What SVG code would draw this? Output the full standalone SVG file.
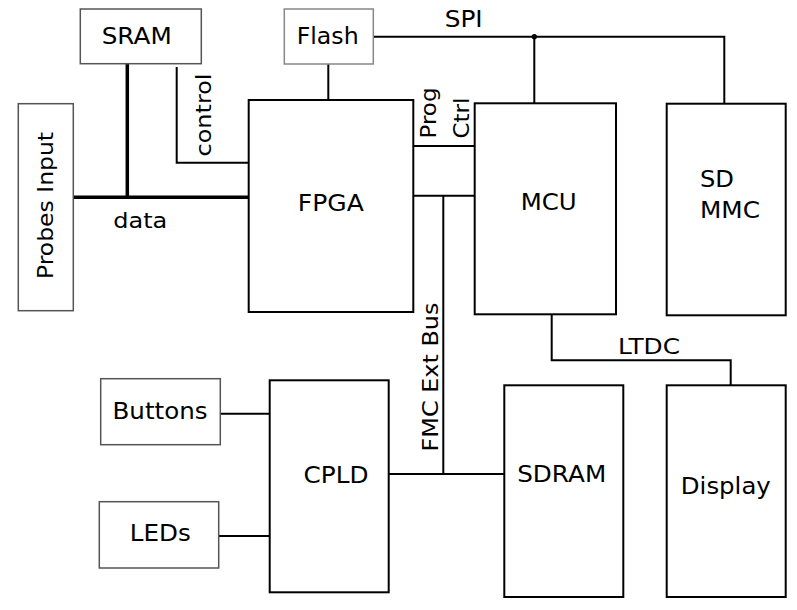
<svg xmlns="http://www.w3.org/2000/svg" width="797" height="610" viewBox="0 0 797 610">
<style>
.big{fill:#fff;stroke:#000;stroke-width:2}
.small{fill:#fff;stroke:#555;stroke-width:1.5}
.flash{fill:#fff;stroke:#888;stroke-width:1.5}
.ln{fill:none;stroke:#000;stroke-width:2}
.thick{fill:none;stroke:#000;stroke-width:3.5}
text{font-family:"DejaVu Sans","Liberation Sans",sans-serif;font-size:23px;fill:#000}
.lbl{font-size:21px}
.m{text-anchor:middle}
</style>
<rect width="797" height="610" fill="#fff"/>
<g id="connectors">
<path class="thick" d="M73.3 197.3H248.7M127.3 63.7V197.3"/>
<path class="ln" d="M176.7 67V162.7H248.7"/>
<path class="ln" d="M328.3 64V100"/>
<path class="ln" d="M373.3 36.7H724.3V103.7M534.3 36.7V103.3"/>
<circle cx="534.3" cy="36.7" r="2.6" fill="#000"/>
<path class="ln" d="M413.3 146H474.7M413.3 195.7H474.7M443.3 195.7V474"/>
<path class="ln" d="M388.7 474H504.3"/>
<path class="ln" d="M551.7 314.3V360.3H730.7V385.3"/>
<path class="ln" d="M220.3 413.7H269.7M218.7 536H269.7"/>
</g>
<g id="sram"><rect class="small" x="80.3" y="9" width="121" height="54.7"/><text class="m" x="136.7" y="43.7" textLength="70" lengthAdjust="spacingAndGlyphs">SRAM</text></g>
<g id="flash"><rect class="flash" x="284.3" y="9" width="89" height="55"/><text class="m" x="327.7" y="43.7" textLength="62" lengthAdjust="spacingAndGlyphs">Flash</text></g>
<g id="probes"><rect class="small" x="18.3" y="103.7" width="55" height="207"/><text class="lbl m" transform="translate(52.5,205.5) rotate(-90)" textLength="147" lengthAdjust="spacingAndGlyphs">Probes Input</text></g>
<g id="fpga"><rect class="big" x="248.7" y="100" width="164.6" height="212"/><text class="m" x="330.8" y="210.5" textLength="66" lengthAdjust="spacingAndGlyphs">FPGA</text></g>
<g id="mcu"><rect class="big" x="474.7" y="103.3" width="141.3" height="211"/><text class="m" x="548.7" y="210" textLength="56" lengthAdjust="spacingAndGlyphs">MCU</text></g>
<g id="sdmmc"><rect class="big" x="666.7" y="103.7" width="119" height="211.6"/><text x="700" y="186.7" textLength="34" lengthAdjust="spacingAndGlyphs">SD</text><text x="700" y="218.3" textLength="60" lengthAdjust="spacingAndGlyphs">MMC</text></g>
<g id="buttons"><rect class="small" x="100.7" y="378.7" width="119.6" height="66"/><text class="m" x="160" y="419" textLength="95" lengthAdjust="spacingAndGlyphs">Buttons</text></g>
<g id="leds"><rect class="small" x="99.3" y="501.7" width="119.4" height="66.3"/><text class="m" x="160.3" y="540.7" textLength="61" lengthAdjust="spacingAndGlyphs">LEDs</text></g>
<g id="cpld"><rect class="big" x="269.7" y="380.3" width="119" height="212"/><text class="m" x="336" y="483" textLength="65" lengthAdjust="spacingAndGlyphs">CPLD</text></g>
<g id="sdram"><rect class="big" x="504.3" y="385.3" width="119" height="211.7"/><text class="m" x="561.7" y="481.7" textLength="89" lengthAdjust="spacingAndGlyphs">SDRAM</text></g>
<g id="display"><rect class="big" x="666.7" y="385.3" width="119" height="211.7"/><text class="m" x="725.8" y="494" textLength="90" lengthAdjust="spacingAndGlyphs">Display</text></g>
<g id="labels">
<text class="m" x="463.7" y="26.7" textLength="38" lengthAdjust="spacingAndGlyphs">SPI</text>
<text class="lbl m" x="140.3" y="227.7" textLength="54" lengthAdjust="spacingAndGlyphs">data</text>
<text class="lbl m" transform="translate(210.5,115) rotate(-90)" textLength="83" lengthAdjust="spacingAndGlyphs">control</text>
<text class="lbl" transform="translate(435.5,138.5) rotate(-90)" textLength="51" lengthAdjust="spacingAndGlyphs">Prog</text>
<text class="lbl" transform="translate(468.5,138.5) rotate(-90)" textLength="41" lengthAdjust="spacingAndGlyphs">Ctrl</text>
<text class="lbl" transform="translate(438,451.5) rotate(-90)" textLength="149" lengthAdjust="spacingAndGlyphs">FMC Ext Bus</text>
<text class="lbl m" x="649" y="354.3" textLength="62" lengthAdjust="spacingAndGlyphs">LTDC</text>
</g>
</svg>
